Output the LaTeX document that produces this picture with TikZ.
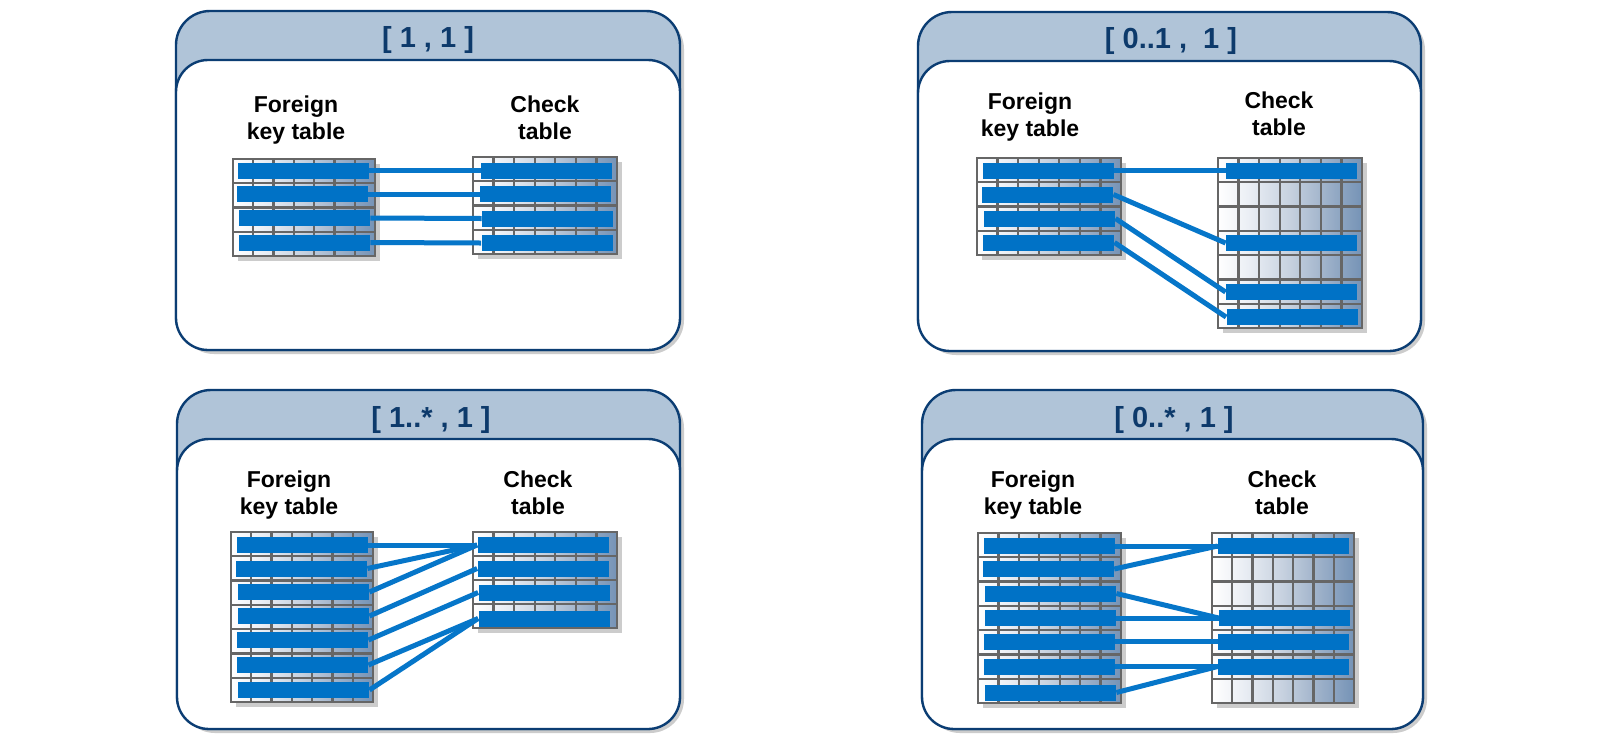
\documentclass[tikz,border=0pt]{standalone}
\usepackage{fontspec}
\setmainfont{Liberation Sans}
\usetikzlibrary{calc}
\definecolor{barblue}{HTML}{0072C6}
\definecolor{linkblue}{HTML}{0676C9}
\definecolor{tblgray}{HTML}{666666}
\definecolor{shadowc}{HTML}{CCCCCC}
\definecolor{pborderc}{HTML}{0B3D73}
\definecolor{headblue}{HTML}{B0C4D8}
\definecolor{titleblue}{HTML}{0D3A6B}
\definecolor{tblA}{HTML}{EAEEF4}
\definecolor{tblB}{HTML}{C6D1DF}
\definecolor{tblC}{HTML}{9FB2CA}
\definecolor{tblD}{HTML}{7593B6}
\pgfdeclarehorizontalshading{tblshade}{100bp}{color(0bp)=(white); color(25bp)=(white); color(36bp)=(tblA); color(50bp)=(tblB); color(62bp)=(tblC); color(75bp)=(tblD); color(100bp)=(tblD)}
\tikzset{
  bar/.style={rectangle, fill=barblue, inner sep=0pt, minimum width=65.5pt, minimum height=8pt},
  link/.style={draw=linkblue, line width=2.5pt},
  gridl/.style={draw=tblgray, line width=1.15pt},
  tblb/.style={draw=tblgray, line width=1.4pt},
  pborder/.style={draw=pborderc, line width=1.2pt},
  ptitle/.style={font=\bfseries\fontsize{14.5pt}{17pt}\selectfont, text=titleblue, anchor=base, inner sep=0pt},
  plabel/.style={font=\bfseries\fontsize{11.5pt}{13.5pt}\selectfont, align=center, inner sep=0pt, anchor=north}
}
\newcommand{\dbtable}[5]{%
  \fill[shadowc] (#1+5,#2+5) rectangle (#1+#3+5,#2+#5+5);
  \shade[shading=tblshade] (#1,#2) rectangle (#1+#3,#2+#5);
  \foreach \k in {1,...,6} \draw[gridl] ({#1+\k*#3/7},#2) -- ({#1+\k*#3/7},#2+#5);
  \pgfmathtruncatemacro{\nrm}{#4-1}
  \foreach \k in {1,...,\nrm} \draw[gridl] (#1,{#2+\k*#5/#4}) -- (#1+#3,{#2+\k*#5/#4});
  \draw[tblb] (#1,#2) rectangle (#1+#3,#2+#5);
}
\newcommand{\panelbox}[4]{%
  \fill[shadowc, rounded corners=17pt] (#1+4,#2+4) rectangle (#3+4,#4+4);
  \draw[pborder, fill=headblue, rounded corners=17pt] (#1,#2) rectangle (#3,#4);
  \draw[pborder, fill=white, rounded corners=16pt] (#1,#2+49) rectangle (#3,#4);
}
\begin{document}
\begin{tikzpicture}[x=0.5pt,y=-0.5pt]
\useasboundingbox (0,0) rectangle (1600,745);
\fill[white] (0,0) rectangle (1600,745);

% panels
\panelbox{176}{11}{680}{350}
\panelbox{918}{12}{1421}{351}
\panelbox{177}{390}{680}{729}
\panelbox{922}{390}{1423}{729}

% titles
\node[ptitle] (t1) at (428,47) {[ 1 , 1 ]};
\node[ptitle] (t2) at (1171,48) {[ 0..1 ,\ \ 1 ]};
\node[ptitle] (t3) at (431,427) {[ 1..* , 1 ]};
\node[ptitle] (t4) at (1174,427) {[ 0..* , 1 ]};

% labels
\node[plabel] (l1a) at (296,95) {Foreign\\key table};
\node[plabel] (l1b) at (545,95) {Check\\table};
\node[plabel] (l2a) at (1030,92) {Foreign\\key table};
\node[plabel] (l2b) at (1279,91) {Check\\table};
\node[plabel] (l3a) at (289,470) {Foreign\\key table};
\node[plabel] (l3b) at (538,470) {Check\\table};
\node[plabel] (l4a) at (1033,470) {Foreign\\key table};
\node[plabel] (l4b) at (1282,470) {Check\\table};

% tables
\dbtable{233}{159}{142}{4}{97}
\dbtable{473}{157}{144}{4}{97}
\dbtable{977}{158}{144}{4}{97}
\dbtable{1218}{158}{144}{7}{170}
\dbtable{231}{532}{142}{7}{170}
\dbtable{473}{532}{144}{4}{96}
\dbtable{978}{533}{143}{7}{170}
\dbtable{1212}{533}{142}{7}{170}

% bars: top-left
\node[bar] (tlf1) at (303.5,170.5) {};
\node[bar] (tlf2) at (302.5,194) {};
\node[bar] (tlf3) at (304.5,218) {};
\node[bar] (tlf4) at (304.5,242.5) {};
\node[bar] (tlc1) at (546.5,170.5) {};
\node[bar] (tlc2) at (545.5,194) {};
\node[bar] (tlc3) at (547.5,218.5) {};
\node[bar] (tlc4) at (547,243) {};
% top-right
\node[bar] (trf1) at (1048.5,170.5) {};
\node[bar] (trf2) at (1047.5,194.5) {};
\node[bar] (trf3) at (1049.5,218.5) {};
\node[bar] (trf4) at (1048.5,242.5) {};
\node[bar] (trc1) at (1291.5,170.5) {};
\node[bar] (trc4) at (1291.5,243) {};
\node[bar] (trc6) at (1291.5,292) {};
\node[bar] (trc7) at (1292,317) {};
% bottom-left
\node[bar] (blf1) at (302.5,545) {};
\node[bar] (blf2) at (301.5,568.5) {};
\node[bar] (blf3) at (303.5,592) {};
\node[bar] (blf4) at (303.5,616) {};
\node[bar] (blf5) at (302.5,640) {};
\node[bar] (blf6) at (302.5,665) {};
\node[bar] (blf7) at (303.5,690) {};
\node[bar] (blc1) at (543,545) {};
\node[bar] (blc2) at (543,568.5) {};
\node[bar] (blc3) at (544,592.5) {};
\node[bar] (blc4) at (544,618.5) {};
% bottom-right
\node[bar] (brf1) at (1049.5,546) {};
\node[bar] (brf2) at (1048.3,569) {};
\node[bar] (brf3) at (1050.5,593.5) {};
\node[bar] (brf4) at (1050.5,618) {};
\node[bar] (brf5) at (1049.5,641.5) {};
\node[bar] (brf6) at (1049.5,666.5) {};
\node[bar] (brf7) at (1050.5,692.5) {};
\node[bar] (brc1) at (1283.5,546) {};
\node[bar] (brc4) at (1284.5,618) {};
\node[bar] (brc5) at (1283.5,641.5) {};
\node[bar] (brc6) at (1283.5,666.5) {};

% connectors
\draw[link] (tlf1.east) -- (tlc1.west);
\draw[link] (tlf2.east) -- (tlc2.west);
\draw[link] (tlf3.east) -- (tlc3.west);
\draw[link] (tlf4.east) -- (tlc4.west);

\draw[link] (trf1.east) -- (trc1.west);
\draw[link] (trf2.east) -- (trc4.west);
\draw[link] (trf3.east) -- (trc6.west);
\draw[link] (trf4.east) -- (trc7.west);

\draw[link] (blf1.east) -- (blc1.west);
\draw[link] (blf2.east) -- (blc1.west);
\draw[link] (blf3.east) -- (blc1.west);
\draw[link] (blf4.east) -- (blc2.west);
\draw[link] (blf5.east) -- (blc3.west);
\draw[link] (blf6.east) -- (blc4.west);
\draw[link] (blf7.east) -- (blc4.west);

\draw[link] (brf1.east) -- (brc1.west);
\draw[link] (brf2.east) -- (brc1.west);
\draw[link] (brf3.east) -- (brc4.west);
\draw[link] (brf4.east) -- (brc4.west);
\draw[link] (brf5.east) -- (brc5.west);
\draw[link] (brf6.east) -- (brc6.west);
\draw[link] (brf7.east) -- (brc6.west);
\end{tikzpicture}
\end{document}
